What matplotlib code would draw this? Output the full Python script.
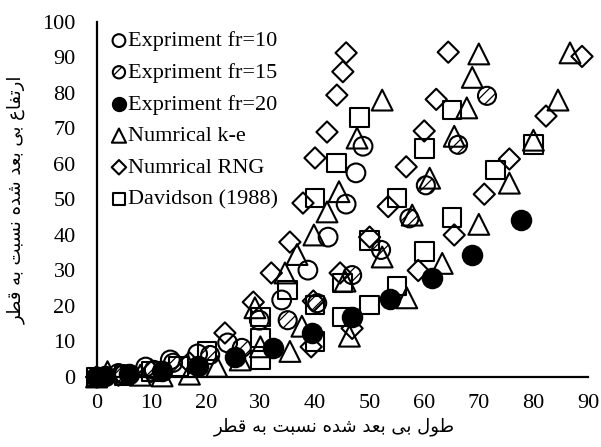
import matplotlib
matplotlib.use('Agg')
import matplotlib.pyplot as plt

# ---- data ----
fr10_x = [0, 4, 9, 13.5, 18.5, 24, 29.8, 33.9, 38.7, 42.4, 45.7, 47.5, 48.8]
fr10_y = [0, 1, 2.8, 4.8, 6.5, 9.6, 16, 21.7, 30.1, 39.4, 48.7, 57.5, 65]

fr15_x = [0, 5, 10.5, 14, 20.8, 26.6, 35, 40.4, 46.8, 52.1, 57.3, 60.3, 66.2, 71.5]
fr15_y = [0, 0.8, 2, 4, 6.2, 8.2, 16, 20.8, 28.7, 35.8, 44.7, 54, 65.4, 79.2]

fr20_x = [0, 1.5, 6, 12, 18.5, 25.3, 32.3, 39.5, 46.7, 53.7, 61.5, 68.7, 77.7]
fr20_y = [0, 0.3, 0.8, 1.8, 3.2, 5.7, 8.3, 12.5, 17, 22, 28, 34.5, 44.2]

ke_x = [0, 2, 8, 12, 17, 22, 26.3, 30, 29, 34.5, 36.7, 39.8, 42.2, 44.4, 47.7, 52.3,
        35.4, 37.6, 45.5, 46.3, 52.3, 56.8, 57.8, 61, 63.3, 65.5, 67.8, 68.8, 70,
        70, 75.6, 80, 84.5, 86.7]
ke_y = [0, 1.5, 0.5, 0.3, 0.8, 3, 4.8, 8.5, 19.5, 29.3, 34.5, 40, 46.5, 52.2, 67.3, 78,
        7.2, 14.3, 27, 11.5, 33.8, 22.3, 45.6, 56, 32, 67.8, 75.8, 84.4, 91,
        43, 54.6, 66.7, 78, 91.3]

rng_x = [0, 4, 10, 17, 23.5, 28.7, 32, 35.4, 37.8, 40, 42.2, 44, 45.1, 45.7,
         39.3, 39.7, 44.6, 50, 53.4, 56.7, 60, 62.2, 64.4,
         46.8, 58.9, 65.5, 71, 75.6, 82.3, 88.9]
rng_y = [0, 0.5, 1.5, 4, 12.4, 21.1, 29.3, 38, 49, 61.7, 69, 79.4, 86, 91.3,
         8.5, 21.4, 29.3, 39.4, 48, 59.2, 69.3, 78.2, 91.5,
         13.7, 30, 40, 51.5, 61.4, 73.5, 90.3]

dav_x = [0, 5, 10, 15, 20.2, 30, 30, 30, 34.9, 40, 44, 48.1,
         40, 40, 45, 45, 50, 55, 60, 65.1,
         50, 55, 60.1, 65.1, 73, 80]
dav_y = [0, 0.5, 1.5, 3, 7.3, 4.8, 11, 16.9, 24.5, 50.4, 60.3, 73.2,
         9.9, 20.3, 16.9, 26.5, 38.5, 50.4, 64.3, 75.2,
         20.3, 25.6, 35.3, 45, 58.3, 65.4]

labels = ['Expriment fr=10', 'Expriment fr=15', 'Expriment fr=20',
          'Numrical k-e', 'Numrical RNG', 'Davidson (1988)']
xticks = [0, 10, 20, 30, 40, 50, 60, 70, 80, 90]
yticks = [0, 10, 20, 30, 40, 50, 60, 70, 80, 90, 100]
xlabel = 'طول بی بعد شده نسبت به قطر'
ylabel = 'ارتفاع بی بعد شده نسبت به قطر'


# ---- minimal Persian shaping (matplotlib has no RTL / joining) ----
FORMS = {
    'ا': ('\uFE8D', '\uFE8E', None, None),
    'ب': ('\uFE8F', '\uFE90', '\uFE91', '\uFE92'),
    'ت': ('\uFE95', '\uFE96', '\uFE97', '\uFE98'),
    'د': ('\uFEA9', '\uFEAA', None, None),
    'ر': ('\uFEAD', '\uFEAE', None, None),
    'س': ('\uFEB1', '\uFEB2', '\uFEB3', '\uFEB4'),
    'ش': ('\uFEB5', '\uFEB6', '\uFEB7', '\uFEB8'),
    'ط': ('\uFEC1', '\uFEC2', '\uFEC3', '\uFEC4'),
    'ع': ('\uFEC9', '\uFECA', '\uFECB', '\uFECC'),
    'ف': ('\uFED1', '\uFED2', '\uFED3', '\uFED4'),
    'ق': ('\uFED5', '\uFED6', '\uFED7', '\uFED8'),
    'ل': ('\uFEDD', '\uFEDE', '\uFEDF', '\uFEE0'),
    'ن': ('\uFEE5', '\uFEE6', '\uFEE7', '\uFEE8'),
    'ه': ('\uFEE9', '\uFEEA', '\uFEEB', '\uFEEC'),
    'و': ('\uFEED', '\uFEEE', None, None),
    'ی': ('\uFEEF', '\uFEF0', '\uFEF3', '\uFEF4'),
}

def shape(text):
    out = []
    for i, c in enumerate(text):
        if c not in FORMS:
            out.append(c)
            continue
        prev = text[i-1] if i > 0 else ' '
        nxt = text[i+1] if i < len(text) - 1 else ' '
        join_prev = prev in FORMS and FORMS[prev][2] is not None
        join_next = FORMS[c][2] is not None and nxt in FORMS
        iso, fin, ini, med = FORMS[c]
        if join_prev and join_next:
            out.append(med)
        elif join_prev:
            out.append(fin)
        elif join_next:
            out.append(ini)
        else:
            out.append(iso)
    return ''.join(out)[::-1]


plt.rcParams['font.family'] = ['Liberation Serif', 'DejaVu Sans']
plt.rcParams['hatch.linewidth'] = 0.9

fig = plt.figure(figsize=(6.01, 4.47), dpi=100)
ax = fig.add_axes([0.1607, 0.1566, 0.8177, 0.7942])

lw = 1.5
common = dict(edgecolors='black', linewidths=lw, clip_on=False, zorder=3)
ax.scatter(fr10_x, fr10_y, s=13.5**2, marker='o', facecolors='none', label=labels[0], **common)
ax.scatter(fr15_x, fr15_y, s=13**2, marker='o', facecolors='none', hatch='///', label=labels[1], **common)
ax.scatter(fr20_x, fr20_y, s=14**2, marker='o', facecolors='black', label=labels[2], **common)
ax.scatter(ke_x, ke_y, s=15**2, marker='^', facecolors='none', label=labels[3], **common)
ax.scatter(rng_x, rng_y, s=10.8**2, marker='D', facecolors='none', label=labels[4], **common)
ax.scatter(dav_x, dav_y, s=13.5**2, marker='s', facecolors='none', label=labels[5], **common)

ax.set_xlim(0, 90)
ax.set_ylim(0, 100)
ax.set_xticks(xticks)
ax.set_yticks(yticks)
ax.tick_params(length=0, labelsize=16)
ax.tick_params(axis='y', pad=15)
ax.tick_params(axis='x', pad=12)
for s in ['top', 'right']:
    ax.spines[s].set_visible(False)
for s in ['left', 'bottom']:
    ax.spines[s].set_linewidth(1.6)

leg = ax.legend(loc='upper left', bbox_to_anchor=(0.015, 1.0), frameon=False,
                fontsize=16, markerscale=0.68, handlelength=0.55, handletextpad=0.12,
                labelspacing=0.5, borderaxespad=0.0, scatterpoints=1)

fig.text(0.557, 0.025, shape(xlabel), fontsize=13, family='DejaVu Sans',
         ha='center', va='bottom')
fig.text(0.012, 0.553, shape(ylabel), fontsize=13, family='DejaVu Sans',
         ha='left', va='center', rotation=90)

fig.savefig('out.png', dpi=100)
